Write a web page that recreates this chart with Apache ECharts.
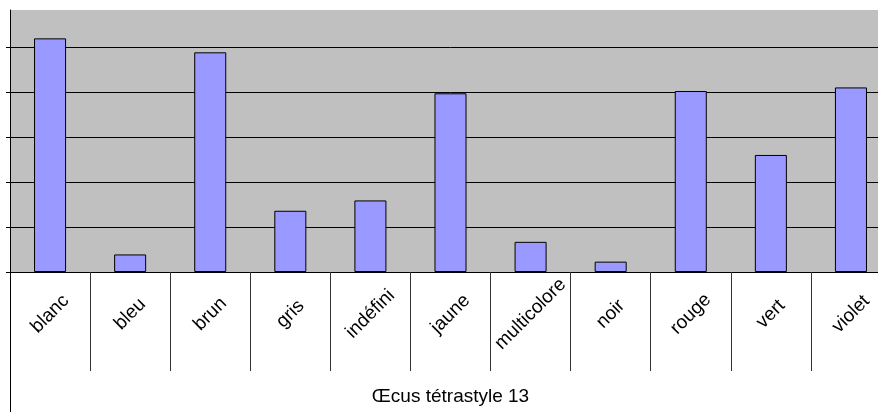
<!DOCTYPE html>
<html>
<head>
<meta charset="utf-8">
<script src="https://cdn.jsdelivr.net/npm/echarts@6/dist/echarts.min.js"></script>
<style>
html,body{margin:0;padding:0;background:#fff;overflow:hidden;width:878px;height:412px;}
#chart{width:891px;height:412px;}
</style>
</head>
<body>
<div id="chart"></div>
<script>
const categories = ['blanc','bleu','brun','gris','indéfini','jaune','multicolore','noir','rouge','vert','violet'];
const values = [5.19, 0.39, 4.88, 1.36, 1.59, 3.97, 0.67, 0.23, 4.02, 2.6, 4.1];
const groupLabels = ['Œcus tétrastyle 13'];
const yTicks = [0, 1, 2, 3, 4, 5];

const chart = echarts.init(document.getElementById('chart'), null, {renderer: 'canvas'});
chart.setOption({
  animation: false,
  grid: {
    left: 10, right: 0, top: 10, bottom: 140,
    show: true, backgroundColor: '#C0C0C0', borderWidth: 0
  },
  xAxis: [
    {
      type: 'category',
      data: categories,
      position: 'bottom',
      boundaryGap: true,
      axisLine: {show: true, lineStyle: {color: '#000', width: 1}},
      axisTick: {show: true, interval: 0, length: 99, lineStyle: {color: '#333', width: 1}},
      axisLabel: {
        interval: 0, rotate: 45, align: 'center', verticalAlign: 'middle', margin: 42,
        fontSize: 19, fontFamily: 'Liberation Sans, Arial, sans-serif', color: '#000'
      },
      splitLine: {show: false}
    },
    {
      type: 'category',
      data: groupLabels,
      position: 'bottom',
      boundaryGap: true,
      axisLine: {show: false},
      axisTick: {show: true, interval: 0, length: 140, lineStyle: {color: '#000', width: 1}},
      axisLabel: {
        interval: 0, verticalAlign: 'middle', margin: 125,
        fontSize: 19, fontFamily: 'Liberation Sans, Arial, sans-serif', color: '#000'
      },
      splitLine: {show: false}
    }
  ],
  yAxis: {
    type: 'value',
    min: 0, max: 5.82, interval: 1,
    axisLine: {show: true, lineStyle: {color: '#000', width: 1}},
    axisTick: {show: true, inside: false, length: 4, customValues: yTicks, lineStyle: {color: '#000'}},
    axisLabel: {show: false},
    splitLine: {show: true, lineStyle: {color: '#000', width: 1}}
  },
  series: [{
    type: 'bar',
    data: values,
    xAxisIndex: 0,
    barWidth: '40%',
    itemStyle: {color: '#9999FF', borderColor: '#000', borderWidth: 1}
  }]
});
</script>
</body>
</html>
